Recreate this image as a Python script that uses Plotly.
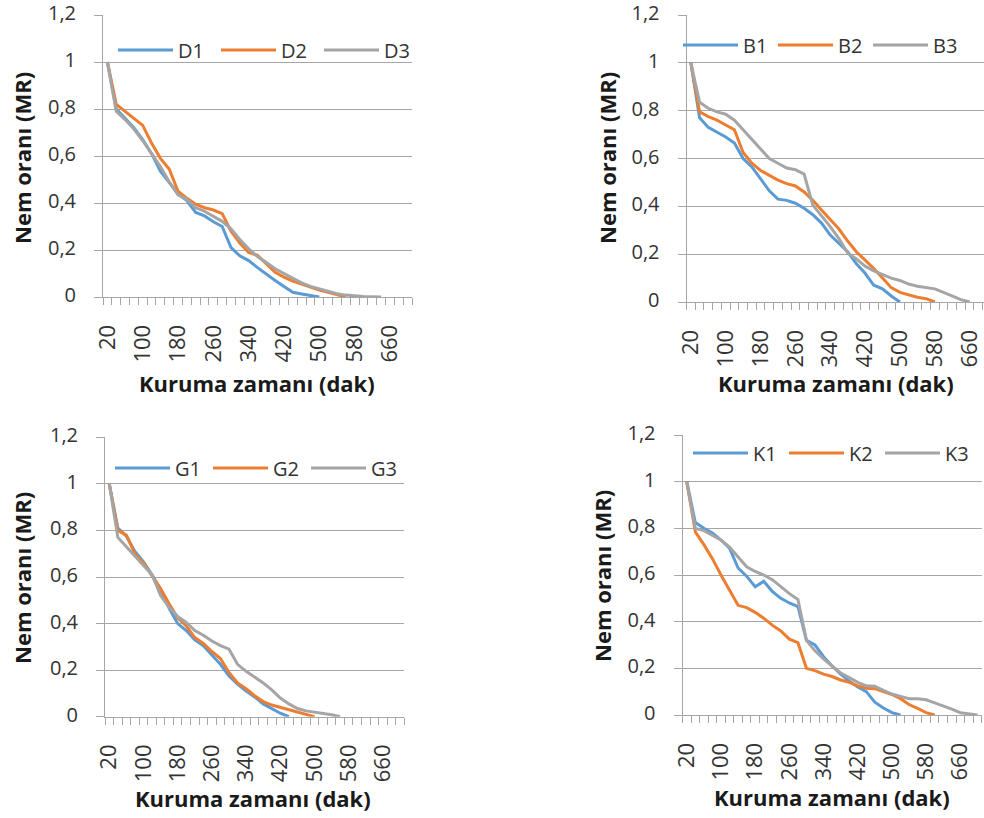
import plotly.graph_objects as go

# Drying time categories (minutes)
TIME = [20, 40, 60, 80, 100, 120, 140, 160, 180, 200, 220, 240, 260, 280, 300,
        320, 340, 360, 380, 400, 420, 440, 460, 480, 500, 520, 540, 560, 580,
        600, 620, 640, 660, 680, 700]

X_TICKS = [20, 100, 180, 260, 340, 420, 500, 580, 660]
X_TICK_TEXT = ["20", "100", "180", "260", "340", "420", "500", "580", "660"]
Y_TICKS = [0, 0.2, 0.4, 0.6, 0.8, 1.0, 1.2]
Y_TICK_TEXT = ["0", "0,2", "0,4", "0,6", "0,8", "1", "1,2"]

# Moisture ratio (MR) series
D1 = [1, 0.80, 0.76, 0.72, 0.67, 0.61, 0.535, 0.485, 0.44, 0.41, 0.36, 0.345,
      0.32, 0.30, 0.21, 0.175, 0.155, 0.125, 0.097, 0.07, 0.045, 0.02, 0.013,
      0.006, 0]
D2 = [1, 0.82, 0.79, 0.76, 0.73, 0.655, 0.59, 0.545, 0.45, 0.42, 0.395, 0.38,
      0.37, 0.355, 0.28, 0.23, 0.19, 0.177, 0.143, 0.105, 0.085, 0.068, 0.055,
      0.042, 0.03, 0.02, 0.01, 0]
D3 = [1, 0.79, 0.755, 0.715, 0.665, 0.61, 0.555, 0.49, 0.435, 0.415, 0.38,
      0.365, 0.345, 0.322, 0.29, 0.245, 0.205, 0.172, 0.147, 0.12, 0.10, 0.08,
      0.06, 0.045, 0.035, 0.022, 0.014, 0.008, 0.004, 0.002, 0.001, 0]

B1 = [1, 0.77, 0.73, 0.71, 0.69, 0.665, 0.60, 0.565, 0.515, 0.465, 0.43, 0.425,
      0.413, 0.392, 0.365, 0.33, 0.28, 0.245, 0.21, 0.16, 0.12, 0.07, 0.055,
      0.025, 0]
B2 = [1, 0.795, 0.775, 0.76, 0.74, 0.72, 0.625, 0.58, 0.55, 0.53, 0.51, 0.495,
      0.485, 0.46, 0.425, 0.385, 0.345, 0.305, 0.255, 0.21, 0.175, 0.14, 0.10,
      0.06, 0.04, 0.03, 0.02, 0.014, 0]
B3 = [1, 0.835, 0.81, 0.795, 0.785, 0.76, 0.72, 0.68, 0.64, 0.60, 0.58, 0.56,
      0.553, 0.535, 0.405, 0.36, 0.315, 0.265, 0.205, 0.18, 0.15, 0.13, 0.115,
      0.10, 0.09, 0.075, 0.066, 0.062, 0.055, 0.04, 0.025, 0.01, 0]

G1 = [1, 0.81, 0.775, 0.71, 0.665, 0.61, 0.545, 0.465, 0.40, 0.37, 0.33, 0.305,
      0.265, 0.225, 0.175, 0.14, 0.11, 0.085, 0.055, 0.035, 0.015, 0]
G2 = [1, 0.80, 0.78, 0.70, 0.66, 0.605, 0.55, 0.485, 0.425, 0.39, 0.34, 0.315,
      0.28, 0.25, 0.19, 0.145, 0.12, 0.09, 0.065, 0.05, 0.04, 0.028, 0.018,
      0.01, 0]
G3 = [1, 0.77, 0.73, 0.69, 0.65, 0.61, 0.52, 0.47, 0.43, 0.405, 0.37, 0.35,
      0.325, 0.305, 0.29, 0.225, 0.195, 0.17, 0.145, 0.115, 0.08, 0.055, 0.035,
      0.025, 0.02, 0.015, 0.008, 0]

K1 = [1, 0.825, 0.80, 0.78, 0.75, 0.715, 0.63, 0.595, 0.55, 0.573, 0.53, 0.50,
      0.48, 0.465, 0.32, 0.30, 0.25, 0.21, 0.175, 0.145, 0.12, 0.10, 0.055,
      0.03, 0.01, 0]
K2 = [1, 0.785, 0.73, 0.67, 0.60, 0.535, 0.47, 0.46, 0.44, 0.415, 0.385, 0.36,
      0.325, 0.31, 0.20, 0.19, 0.175, 0.165, 0.15, 0.14, 0.125, 0.115, 0.113,
      0.10, 0.088, 0.07, 0.045, 0.028, 0.01, 0]
K3 = [1, 0.80, 0.79, 0.77, 0.75, 0.72, 0.675, 0.635, 0.615, 0.60, 0.58, 0.55,
      0.52, 0.495, 0.32, 0.275, 0.24, 0.21, 0.18, 0.16, 0.14, 0.125, 0.123,
      0.106, 0.09, 0.08, 0.07, 0.07, 0.065, 0.052, 0.04, 0.025, 0.01, 0.005, 0]

W, H = 984, 818
COLORS = ["#5B9BD5", "#ED7D31", "#A5A5A5"]
GRID = "#A6A6A6"
FONT = "Open Sans"
TICK_COLOR = "#333333"
TITLE_COLOR = "#1a1a1a"

# Panel geometry in pixels: plot-area left/right/top/bottom, x range end,
# legend anchor and entry width, y-title centre, x-title centre
panels = [
    dict(names=["D1", "D2", "D3"], series=[D1, D2, D3],
         box=(103, 412, 15, 297), xmax=710,
         legend=(113, 50, 33), ytitle=(22, 158), xtitle=(257, 383)),
    dict(names=["B1", "B2", "B3"], series=[B1, B2, B3],
         box=(686.5, 984, 15, 302), xmax=693,
         legend=(678, 45, 25), ytitle=(607, 158), xtitle=(836, 383)),
    dict(names=["G1", "G2", "G3"], series=[G1, G2, G3],
         box=(105, 404.3, 437.3, 716.7), xmax=710,
         legend=(110, 468, 28), ytitle=(22, 578), xtitle=(253, 798)),
    dict(names=["K1", "K2", "K3"], series=[K1, K2, K3],
         box=(682.5, 981.7, 435, 715), xmax=710,
         legend=(688, 453, 26), ytitle=(602, 576), xtitle=(832, 797)),
]

fig = go.Figure()
layout = dict(width=W, height=H,
              margin=dict(l=0, r=0, t=0, b=0, autoexpand=False),
              paper_bgcolor="white", plot_bgcolor="white",
              font=dict(family=FONT, color=TICK_COLOR), annotations=[])

for k, p in enumerate(panels):
    sfx = "" if k == 0 else str(k + 1)
    leg = "legend" + sfx
    for name, vals, col in zip(p["names"], p["series"], COLORS):
        fig.add_trace(go.Scatter(
            x=TIME[:len(vals)], y=vals, mode="lines", name=name,
            line=dict(color=col, width=3),
            xaxis="x" + sfx, yaxis="y" + sfx, legend=leg))

    x0, x1, yt, yb = p["box"]
    layout["xaxis" + sfx] = dict(
        domain=[x0 / W, x1 / W], range=[10, p["xmax"]], anchor="y" + sfx,
        automargin=False, ticklabeloverflow="allow",
        showgrid=False, zeroline=False, showline=True, linecolor=GRID,
        linewidth=1, tickmode="array", tickvals=X_TICKS, ticktext=X_TICK_TEXT,
        ticks="", tickangle=-90, ticklabelstandoff=18,
        tickfont=dict(family=FONT, size=22, color=TICK_COLOR),
        minor=dict(tick0=10, dtick=20, ticks="outside", ticklen=7,
                   tickcolor=GRID, tickwidth=1, showgrid=False))
    layout["yaxis" + sfx] = dict(
        domain=[1 - yb / H, 1 - yt / H], range=[0, 1.2], anchor="x" + sfx,
        automargin=False, ticklabeloverflow="allow",
        showgrid=True, gridcolor=GRID, gridwidth=1, zeroline=False,
        showline=True, linecolor=GRID, linewidth=1, ticks="outside",
        ticklen=8, tickcolor=GRID, tickwidth=1, tickmode="array",
        tickvals=Y_TICKS, ticktext=Y_TICK_TEXT, ticklabelstandoff=14,
        ticklabelshift=-2,
        tickfont=dict(family=FONT, size=20, color=TICK_COLOR))

    lx, ly, ew = p["legend"]
    layout[leg] = dict(x=lx / W, y=1 - ly / H, xanchor="left", yanchor="middle",
                       orientation="h", bgcolor="rgba(0,0,0,0)", borderwidth=0,
                       itemwidth=55, entrywidth=ew,
                       font=dict(family=FONT, size=20, color=TICK_COLOR))

    tx, ty = p["ytitle"]
    layout["annotations"].append(dict(
        text="<b>Nem oranı (MR)</b>", textangle=-90, showarrow=False,
        xref="paper", yref="paper", x=tx / W, y=1 - ty / H,
        xanchor="center", yanchor="middle",
        font=dict(family=FONT, size=22, color=TITLE_COLOR)))
    tx, ty = p["xtitle"]
    layout["annotations"].append(dict(
        text="<b>Kuruma zamanı (dak)</b>", showarrow=False,
        xref="paper", yref="paper", x=tx / W, y=1 - ty / H,
        xanchor="center", yanchor="middle",
        font=dict(family=FONT, size=22, color=TITLE_COLOR)))

fig.update_layout(**layout)
fig.write_html("out.html")
